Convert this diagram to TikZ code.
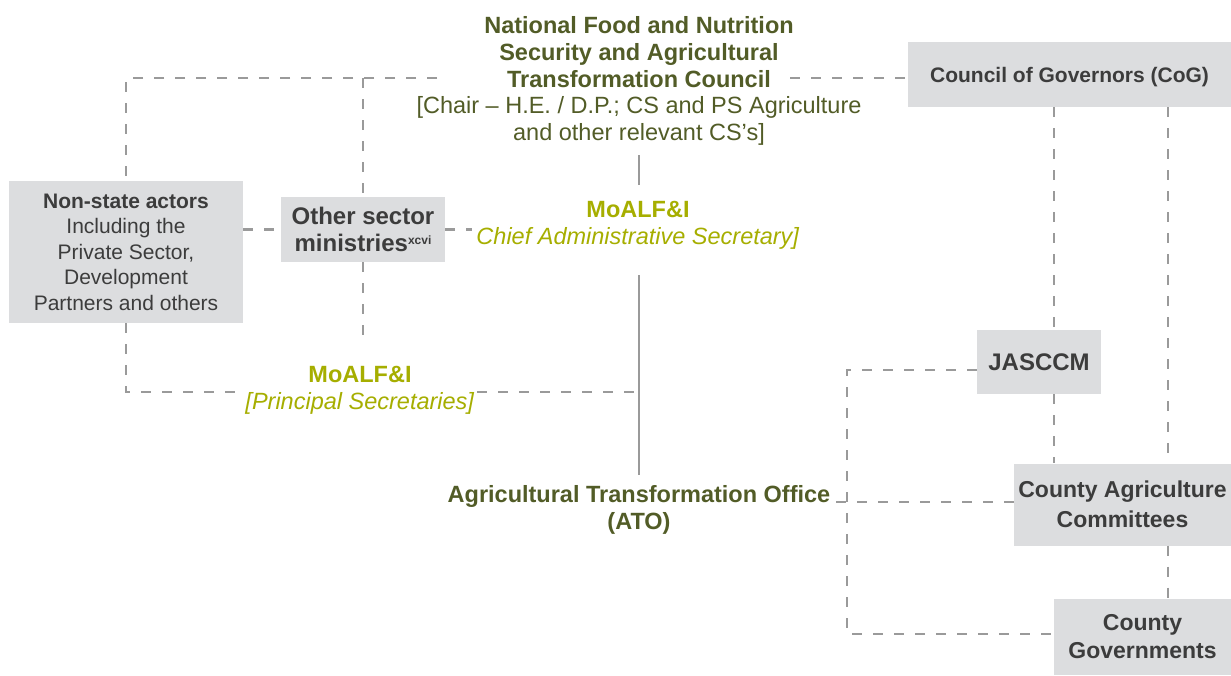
\documentclass[tikz,border=0pt]{standalone}
\usepackage{fontspec}
\setmainfont{Liberation Sans}
\definecolor{dkolive}{HTML}{525C27}
\definecolor{ylgreen}{HTML}{A6AE00}
\definecolor{boxgray}{HTML}{DCDDDF}
\definecolor{boxtext}{HTML}{3C3C3C}
\definecolor{linegray}{HTML}{9A9A9A}
\begin{document}
\begin{tikzpicture}[x=1pt,y=-1pt,
  box/.style={fill=boxgray, text=boxtext, align=center, inner sep=2pt},
  dsh/.style={draw=linegray, line width=2.7pt, dash pattern=on 10pt off 11pt},
  sol/.style={draw=linegray, line width=2.7pt},
  lbl/.style={align=center, inner sep=1pt}]
\useasboundingbox (0,0) rectangle (1231,675);

% boxes
\node[box, minimum width=234pt, minimum height=142pt, font=\fontsize{21}{25.5}\selectfont] (nsa) at (126,252)
  {\textbf{Non-state actors}\\Including the\\Private Sector,\\Development\\Partners and others};
\node[box, minimum width=164pt, minimum height=65pt, font=\fontsize{24}{26.5}\selectfont\bfseries] (osm) at (363,229.5)
  {Other sector\\ministries\raisebox{7pt}{\fontsize{12}{12}\selectfont xcvi}};
\node[box, minimum width=323pt, minimum height=65pt, text depth=0pt, font=\fontsize{21}{25}\selectfont\bfseries] (cog) at (1069.5,74.5)
  {Council of Governors (CoG)};
\node[box, minimum width=124pt, minimum height=64pt, font=\fontsize{24}{27}\selectfont\bfseries] (jas) at (1039,362)
  {JASCCM};
\node[box, minimum width=217pt, minimum height=82pt, font=\fontsize{23}{30}\selectfont\bfseries] (cac) at (1122.5,504.5)
  {County Agriculture\\Committees};
\node[box, minimum width=177pt, minimum height=76pt, font=\fontsize{23}{28}\selectfont\bfseries] (cgov) at (1142.5,637)
  {County\\Governments};

% text nodes
\node[lbl, text=dkolive, font=\fontsize{23.5}{26.8}\selectfont] (council) at (639,81)
  {\textbf{National Food and Nutrition}\\\textbf{Security and Agricultural}\\\textbf{Transformation Council}\\{}[Chair – H.E. / D.P.; CS and PS Agriculture\\and other relevant CS’s]};
\node[lbl, text=ylgreen, font=\fontsize{23.5}{27}\selectfont] (moa1) at (638,225.5)
  {\textbf{MoALF\&I}\\\textit{Chief Administrative Secretary]}};
\node[lbl, text=dkolive, font=\fontsize{23.5}{27}\selectfont\bfseries] (ato) at (639,510)
  {Agricultural Transformation Office\\(ATO)};

% named coordinates
\coordinate (tl) at (126,78);
\coordinate (tle) at (437,78);
\coordinate (tm) at (363,78);
\coordinate (tr) at (790,78);
\coordinate (bl) at (126,392);
\coordinate (br) at (639,392);
\coordinate (osmend) at (363,345);
\coordinate (cas) at (472,229.5);
\coordinate (s1a) at (639,155);
\coordinate (s1b) at (639,185);
\coordinate (s2a) at (639,275);
\coordinate (s2b) at (639,475);
\coordinate (xa) at (1054,0);
\coordinate (xb) at (1168,0);
\coordinate (jl) at (847,370);
\coordinate (jb) at (847,634);
\coordinate (atoe) at (836,502);

% left dashed connectors
\draw[dsh] (tle) -- (tl) -- (nsa.north);
\draw[dsh] (tm) -- (osm.north);
\draw[dsh] (nsa.south) -- (bl) -- (br);
\draw[dsh] (osm.south) -- (osmend);
\draw[dsh] (nsa.east |- osm.west) -- (osm.west);
\draw[dsh] (osm.east) -- (cas);
\draw[dsh] (tr) -- (cog.west |- tr);

% solid spine
\draw[sol] (s1a) -- (s1b);
\draw[sol] (s2a) -- (s2b);

% right dashed connectors
\draw[dsh] (cog.south -| xa) -- (jas.north -| xa);
\draw[dsh] (jas.south -| xa) -- (cac.north -| xa);
\draw[dsh] (cog.south -| xb) -- (cac.north -| xb);
\draw[dsh] (cac.south -| xb) -- (cgov.north -| xb);
\draw[dsh] (jas.west |- jl) -- (jl) -- (jb) -- (cgov.west |- jb);
\draw[dsh] (atoe) -- (cac.west |- atoe);

% label over the dashed line
\node[lbl, fill=white, text=ylgreen, font=\fontsize{23.5}{27}\selectfont] (moa2) at (360,390.5)
  {\textbf{MoALF\&I}\\\textit{[Principal Secretaries]}};
\end{tikzpicture}
\end{document}
